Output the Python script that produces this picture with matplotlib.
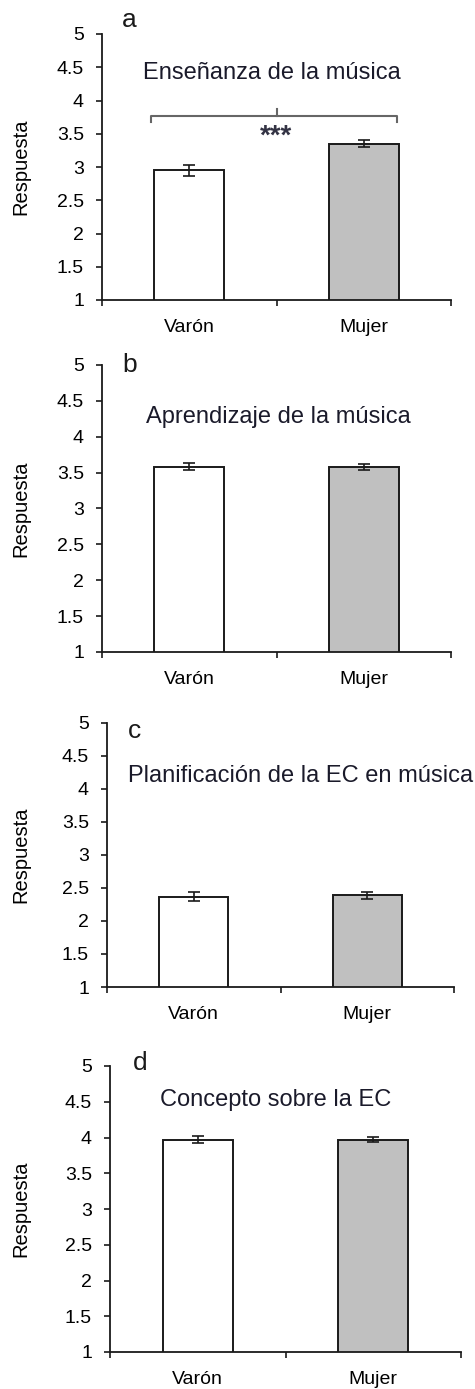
import numpy as np
import matplotlib
matplotlib.use('Agg')
import matplotlib.pyplot as plt

plt.rcParams['font.family'] = ['Liberation Sans', 'DejaVu Sans']

# data
groups = ['Varón', 'Mujer']
letters = ['a', 'b', 'c', 'd']
titles = ['Enseñanza de la música', 'Aprendizaje de la música',
          'Planificación de la EC en música', 'Concepto sobre la EC']
means_a = [2.95, 3.35]
err_a = [0.08, 0.05]
means_b = [3.58, 3.58]
err_b = [0.05, 0.04]
means_c = [2.37, 2.39]
err_c = [0.07, 0.05]
means_d = [3.97, 3.97]
err_d = [0.05, 0.035]
yticks = [1, 1.5, 2, 2.5, 3, 3.5, 4, 4.5, 5]
ytick_labels = ['1', '1.5', '2', '2.5', '3', '3.5', '4', '4.5', '5']
sig_label = '***'

means = [means_a, means_b, means_c, means_d]
errs = [err_a, err_b, err_c, err_d]

W, H = 475, 1389
fig = plt.figure(figsize=(W / 100, H / 100), dpi=100)

# axes boxes in pixels: left, right, top, bottom
boxes = [(102, 451, 34, 300), (102, 451, 365, 652),
         (107, 454, 723, 987), (110, 461, 1066, 1352)]
# title placement (axes fraction), alignment, size
title_pos = [(0.487, 0.853, 'center', 17), (0.504, 0.819, 'center', 17),
             (0.06, 0.798, 'left', 17), (0.473, 0.882, 'center', 17)]
letter_pos = [(0.077, 1.053), (0.08, 1.0), (0.08, 0.968), (0.085, 1.01)]
colors = ['white', '#c0c0c0']

for i in range(4):
    l, r, t, b = boxes[i]
    ax = fig.add_axes([l / W, 1 - b / H, (r - l) / W, (b - t) / H])
    x = np.arange(len(groups))
    ax.bar(x, means[i], width=0.4, color=colors, edgecolor='#1a1a1a',
           linewidth=1.4, zorder=2)
    ax.errorbar(x, means[i], yerr=errs[i], fmt='none', ecolor='#1a1a1a',
                elinewidth=1.2, capsize=4.3, capthick=1.2, zorder=3)
    ax.set_xlim(-0.5, 1.5)
    ax.set_ylim(1, 5)
    for s in ['top', 'right']:
        ax.spines[s].set_visible(False)
    for s in ['left', 'bottom']:
        ax.spines[s].set_linewidth(1.3)
        ax.spines[s].set_color('#1a1a1a')
    ax.set_yticks(yticks)
    ax.set_yticklabels(ytick_labels)
    ax.tick_params(axis='y', direction='out', length=4, width=1.2,
                   pad=9, labelsize=14, color='#1a1a1a')
    # category boundaries carry the tick marks, labels sit between
    ax.set_xticks([-0.5, 0.5, 1.5])
    ax.set_xticklabels(['', '', ''])
    ax.tick_params(axis='x', which='major', direction='out', length=4,
                   width=1.2, color='#1a1a1a')
    ax.set_xticks(x, minor=True)
    ax.set_xticklabels(groups, minor=True)
    ax.tick_params(axis='x', which='minor', length=0, pad=14, labelsize=14)
    ax.set_ylabel('Respuesta', fontsize=14.5)
    ax.yaxis.set_label_coords((30 - l) / (r - l), 0.5)
    tx, ty, ha, fs = title_pos[i]
    ax.text(tx, ty, titles[i], transform=ax.transAxes, ha=ha, va='center',
            fontsize=fs, color='#1a1a2a', clip_on=False)
    lx, ly = letter_pos[i]
    ax.text(lx, ly, letters[i], transform=ax.transAxes, ha='center',
            va='center', fontsize=19, color='#1a1a1a', clip_on=False)

    if i == 0:
        # significance bracket
        ax.plot([-0.22, -0.22, 1.19, 1.19], [3.67, 3.77, 3.77, 3.67],
                color='#666666', lw=1.5, zorder=3)
        ax.plot([0.5, 0.5], [3.77, 3.87], color='#666666', lw=1.5, zorder=3)
        ax.text(0.5, 3.45, sig_label, ha='center', va='center', fontsize=20,
                fontweight='bold', color='#333344')

fig.savefig('out.png', dpi=100)
